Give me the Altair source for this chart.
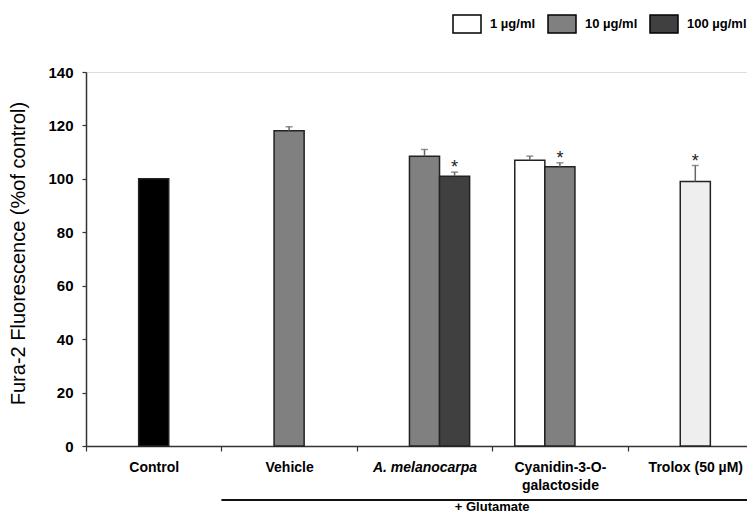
import altair as alt
import pandas as pd

# ---- data ----
categories = ["Control", "Vehicle", "A. melanocarpa", "A. melanocarpa",
              "Cyanidin-3-O-galactoside", "Cyanidin-3-O-galactoside", "Trolox (50 µM)"]
slots = ["B", "B", "B", "C", "A", "B", "B"]
keys = ["Control", "Vehicle", "10 µg/ml", "100 µg/ml", "1 µg/ml", "10 µg/ml", "Trolox"]
values = [100, 118, 108.5, 101, 107, 104.5, 99]
errors = [0, 1.5, 2.5, 1.5, 1.5, 1.5, 6]
signif = ["", "", "", "*", "", "*", "*"]

cat_order = ["Control", "Vehicle", "A. melanocarpa", "Cyanidin-3-O-galactoside", "Trolox (50 µM)"]
slot_order = ["A", "B", "C"]
key_domain = ["1 µg/ml", "10 µg/ml", "100 µg/ml", "Control", "Vehicle", "Trolox"]
key_colors = ["#ffffff", "#808080", "#404040", "#000000", "#808080", "#eeeeee"]
legend_values = ["1 µg/ml", "10 µg/ml", "100 µg/ml"]
y_ticks = [0, 20, 40, 60, 80, 100, 120, 140]

df = pd.DataFrame({"category": categories, "slot": slots, "key": keys,
                   "value": values, "err": errors, "sig": signif})
df["top"] = df["value"] + df["err"]

ann = pd.DataFrame({"start": ["Vehicle"], "end": ["Trolox (50 µM)"],
                    "mid": ["Cyanidin-3-O-galactoside"], "label": ["+ Glutamate"]})

FONT = "Liberation Sans"
PLOT_H = 374

xscale = alt.Scale(domain=cat_order, range=[0, 677], paddingInner=0, paddingOuter=0)
xoff = alt.XOffset("slot:N", scale=alt.Scale(domain=slot_order, paddingInner=0, paddingOuter=0.75))
yscale = alt.Scale(domain=[0, 140])

x_axis = alt.Axis(
    title=None, labelAngle=0, labelFont=FONT, labelFontSize=14, labelFontWeight="bold",
    labelColor="black", labelPadding=9, labelLimit=300, labelLineHeight=18,
    labelExpr="datum.value == 'Cyanidin-3-O-galactoside' ? ['Cyanidin-3-O-', 'galactoside'] : datum.value",
    labelFontStyle=alt.condition("datum.value == 'A. melanocarpa'", alt.value("italic"), alt.value("normal")),
    tickBand="extent", tickSize=5, tickColor="#333", tickWidth=1.2,
    domainColor="#333", domainWidth=1.5,
)
y_axis = alt.Axis(
    values=y_ticks, grid=False, title="Fura-2 Fluorescence (%of control)",
    titleFont=FONT, titleFontSize=20, titleFontWeight="normal", titleColor="black",
    titlePadding=19, titleY=181, labelFont=FONT, labelFontSize=15, labelFontWeight="bold",
    labelColor="black", labelPadding=9, tickSize=4, tickColor="#333", tickWidth=1.2,
    domainColor="#333", domainWidth=1.5,
)

base = alt.Chart(df)
xcat = alt.X("category:N", sort=cat_order, scale=xscale, axis=x_axis)

bars = base.mark_bar(stroke="#222", strokeWidth=1.5).encode(
    x=xcat,
    xOffset=xoff,
    y=alt.Y("value:Q", scale=yscale, axis=y_axis),
    fill=alt.Fill("key:N", scale=alt.Scale(domain=key_domain, range=key_colors),
                  legend=alt.Legend(values=legend_values, orient="none", legendX=366, legendY=-63,
                                    direction="horizontal", title=None,
                                    symbolType="M-1,-0.64H1V0.64H-1Z", symbolSize=784,
                                    symbolStrokeColor="black", symbolStrokeWidth=1.5,
                                    labelFont=FONT, labelFontSize=13, labelFontWeight="bold",
                                    labelColor="black", labelOffset=8, columnPadding=9)),
)

err_base = base.transform_filter("datum.err > 0")
err_rule = err_base.mark_rule(color="#666", strokeWidth=1.5).encode(
    x=xcat, xOffset=xoff,
    y=alt.Y("value:Q", scale=yscale, axis=y_axis),
    y2="top:Q",
)
err_cap = err_base.mark_tick(color="#666", thickness=1.5, size=7).encode(
    x=xcat, xOffset=xoff,
    y=alt.Y("top:Q", scale=yscale, axis=y_axis),
)
stars = base.transform_filter("datum.sig != ''").mark_text(
    font=FONT, fontSize=18, color="#222", baseline="alphabetic", dy=1
).encode(
    x=xcat, xOffset=xoff,
    y=alt.Y("top:Q", scale=yscale, axis=y_axis),
    text="sig:N",
)

glu_line = alt.Chart(ann).mark_rule(color="#111", strokeWidth=2).encode(
    x=alt.X("start:N", scale=xscale, axis=x_axis, bandPosition=0),
    x2=alt.X2("end:N", bandPosition=1),
    y=alt.value(PLOT_H + 54),
)
glu_text = alt.Chart(ann).mark_text(
    font=FONT, fontSize=13, fontWeight="bold", color="black", baseline="middle"
).encode(
    x=alt.X("mid:N", scale=xscale, axis=x_axis, bandPosition=0),
    y=alt.value(PLOT_H + 61),
    text="label:N",
)

chart = alt.layer(bars, err_rule, err_cap, stars, glu_line, glu_text).properties(
    width=661, height=PLOT_H,
    autosize=alt.AutoSizeParams(type="none"),
    padding={"left": 78, "top": 64, "right": 0, "bottom": 68},
).configure_view(stroke=None).configure(font=FONT)

chart.save("out.html", embed_options={"renderer": "svg", "actions": False})
